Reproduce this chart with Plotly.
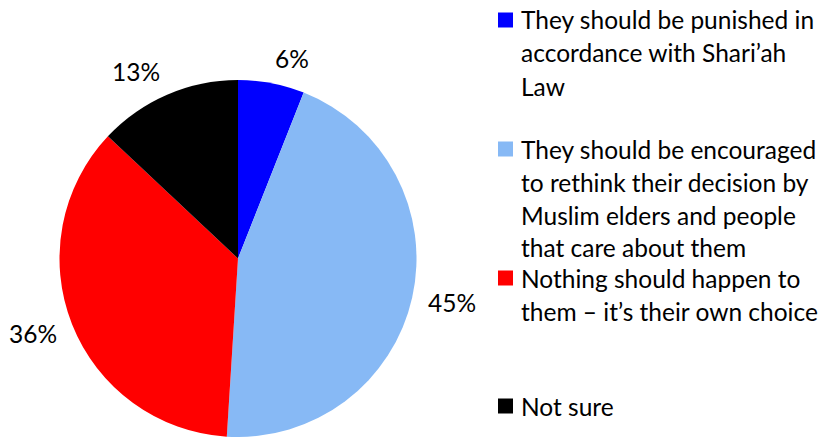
import math
import plotly.graph_objects as go

# Survey responses: what should happen to people who leave Islam
categories = [
    "They should be punished in accordance with Shari\u2019ah Law",
    "They should be encouraged to rethink their decision by Muslim elders and people that care about them",
    "Nothing should happen to them \u2013 it\u2019s their own choice",
    "Not sure",
]
legend_lines = [
    ["They should be punished in", "accordance with Shari\u2019ah", "Law"],
    ["They should be encouraged", "to rethink their decision by",
     "Muslim elders and people", "that care about them"],
    ["Nothing should happen to", "them \u2013 it\u2019s their own choice"],
    ["Not sure"],
]
shares = [6, 45, 36, 13]
colors = ["#0000FF", "#87B9F5", "#FF0000", "#000000"]

W, H = 823, 437
FONT = "Lato"
FS = 24.5

# pie geometry in pixels
CX, CY, R = 238, 258.5, 178.5


def px(x, y):
    return x / W, 1 - y / H


fig = go.Figure(
    go.Pie(
        labels=categories,
        values=shares,
        sort=False,
        direction="clockwise",
        rotation=0,
        marker=dict(colors=colors, line=dict(width=0)),
        textinfo="none",
        showlegend=False,
        hoverinfo="label+percent",
        domain=dict(x=[(CX - R) / W, (CX + R) / W], y=[1 - (CY + R) / H, 1 - (CY - R) / H]),
    )
)

annotations = []

# Percentage labels placed just outside the rim, at each slice's mid-angle
total = sum(shares)
cum = 0
gap = 15
for v in shares:
    mid = (cum + v / 2) / total * 2 * math.pi
    cum += v
    s, c = math.sin(mid), math.cos(mid)
    ax = CX + (R + gap) * s
    ay = CY - (R + gap) * c - 10 * c
    xp, yp = px(ax, ay)
    annotations.append(dict(
        text=f"{v}%", xref="paper", yref="paper", x=xp, y=yp,
        xanchor="left" if s >= 0 else "right",
        yanchor="middle",
        showarrow=False, borderpad=0,
        font=dict(family=FONT, size=FS, color="#000000")))

# Legend drawn as swatches plus wrapped text lines
item_tops = [20, 149, 278, 406]
line_step = 33
shapes = []
for lines, col, y0 in zip(legend_lines, colors, item_tops):
    x0p, y0p = px(498, y0 - 7.5)
    x1p, y1p = px(513, y0 + 7.5)
    shapes.append(dict(type="rect", xref="paper", yref="paper",
                       x0=x0p, x1=x1p, y0=y1p, y1=y0p,
                       fillcolor=col, line=dict(width=0)))
    for i, txt in enumerate(lines):
        xp, yp = px(519, y0 + i * line_step)
        annotations.append(dict(text=txt, xref="paper", yref="paper",
                                x=xp, y=yp, xanchor="left", yanchor="middle",
                                showarrow=False,
                                font=dict(family=FONT, size=FS, color="#000000")))

fig.update_layout(
    width=W, height=H,
    margin=dict(l=0, r=0, t=0, b=0),
    paper_bgcolor="white",
    plot_bgcolor="white",
    shapes=shapes,
    annotations=annotations,
)

fig.write_html("out.html")
